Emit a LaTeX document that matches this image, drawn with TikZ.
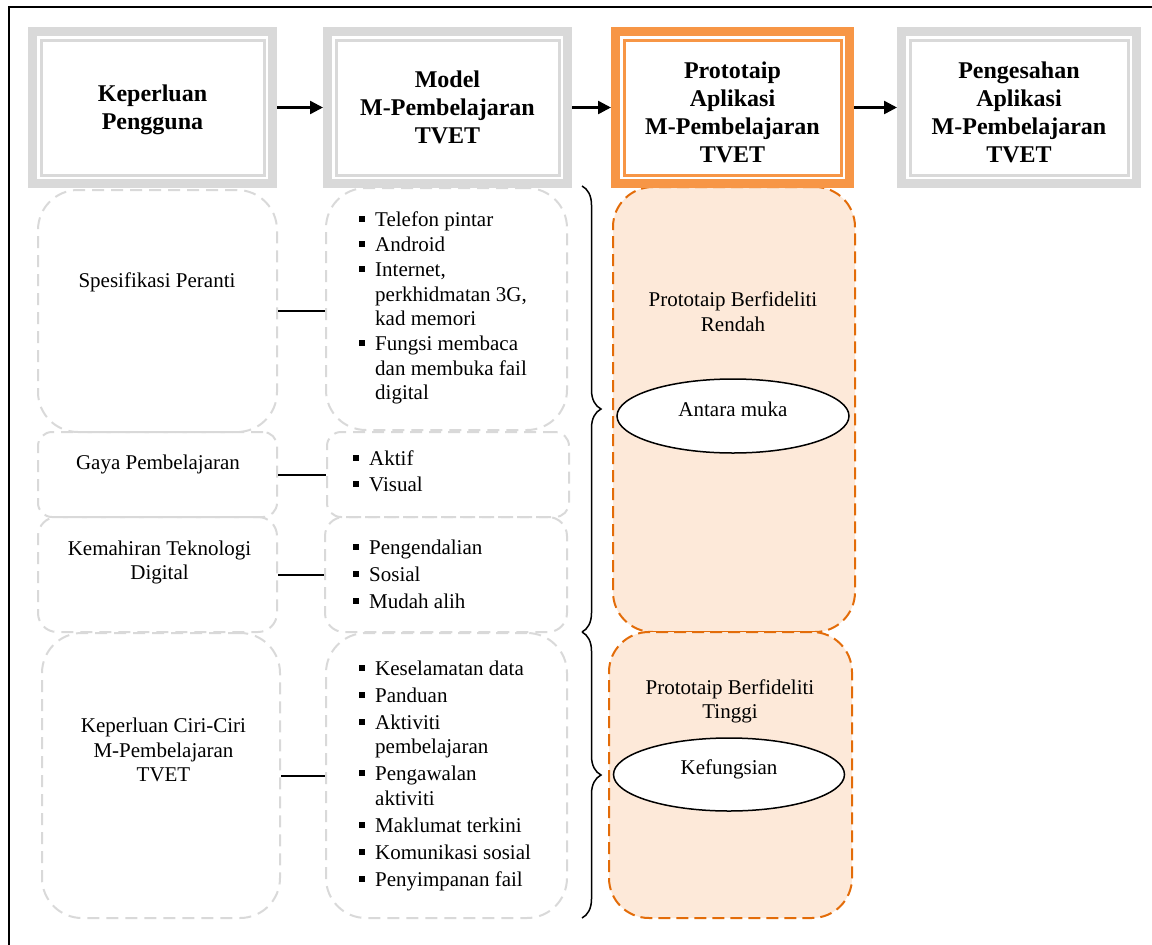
\documentclass[tikz,border=0pt]{standalone}
\usepackage{fontspec}
\setmainfont{Liberation Serif}
\usetikzlibrary{arrows.meta,decorations.pathreplacing,shapes.geometric}

\definecolor{framegray}{HTML}{D9D9D9}
\definecolor{hdrorange}{HTML}{F79646}
\definecolor{dashorange}{HTML}{E36C09}
\definecolor{peach}{HTML}{FDE9D9}

% a centred block of lines whose baseline is the first line's
\newcommand\stacklines[1]{\begin{tabular}[t]{@{}c@{}}#1\end{tabular}}
% square bullet
\newcommand\sqbullet{\raisebox{4.5pt}{\rule{6pt}{6pt}}}
% bulleted list: #1 bullet-to-text distance, #2 extra space between items, #3 items
\newcommand\bulletlist[3]{\parbox[t]{205pt}{\fontsize{21}{24.5}\selectfont
  \setlength\parskip{#2}\setlength\parindent{0pt}%
  \def\itm##1{\par\noindent\hangindent=#1\hangafter=1\makebox[#1][l]{\sqbullet}##1}#3\par}}
% thin inner line of a thick-thin frame
\newcommand\innerframe[2]{\draw[#2, line width=3pt]
  ([shift={(13pt,-13pt)}]#1.north west) rectangle ([shift={(-13pt,13pt)}]#1.south east);}

\begin{document}
\begin{tikzpicture}[x=1pt, y=-1pt,
  hdr/.style={draw=framegray, line width=9pt, minimum height=152pt, inner sep=0pt},
  hdrtext/.style={inner sep=0pt, align=center, font=\fontsize{24}{28}\selectfont\bfseries},
  gbox/.style={draw=framegray, line width=2pt, dash pattern=on 12pt off 7pt,
    rounded corners=#1, inner sep=0pt},
  obox/.style={draw=dashorange, fill=peach, line width=2pt,
    dash pattern=on 12pt off 6pt, rounded corners=40pt, inner sep=0pt},
  oval/.style={ellipse, draw=black, fill=white, line width=1.5pt, inner sep=0pt,
    text height=8pt, text depth=8pt, font=\fontsize{21}{24.5}\selectfont},
  body/.style={inner sep=0pt, font=\fontsize{21}{24.5}\selectfont},
  arr/.style={line width=2.5pt, -{Triangle[length=13pt,width=13pt]}},
  link/.style={line width=2pt},
  curly/.style={decorate, decoration={brace, amplitude=19pt}, line width=1.5pt}]

\useasboundingbox (0,0) rectangle (1152,945);

% outer frame, running off the right and bottom edges
\begin{scope}
  \clip (0,0) rectangle (1152,945);
  \draw[line width=2pt] (9,7) rectangle (1200,1000);
\end{scope}

% prototype stages
\node[obox, minimum width=242pt, minimum height=445pt] (o1) at (734,409.5) {};
\node[obox, minimum width=243pt, minimum height=286pt] (o2) at (730.5,775) {};
\node[body, anchor=base] (o1t) at (733,306.7) {\stacklines{Prototaip Berfideliti\\Rendah}};
\node[body, anchor=base] (o2t) at (730,694) {\stacklines{Prototaip Berfideliti\\Tinggi}};
\node[oval, minimum width=232pt, minimum height=74pt] (e1) at (733,416) {Antara muka};
\node[oval, minimum width=231pt, minimum height=73pt] (e2) at (729,774.5) {Kefungsian};

% user requirement boxes
\node[gbox=40pt, minimum width=239pt, minimum height=242pt] (l1) at (157.5,311) {};
\node[gbox=14pt, minimum width=239pt, minimum height=85pt]  (l2) at (157.5,474.5) {};
\node[gbox=19pt, minimum width=239pt, minimum height=115pt] (l3) at (157.5,574.5) {};
\node[gbox=40pt, minimum width=238pt, minimum height=285pt] (l4) at (161,775.5) {};
\node[body, anchor=base] (l1t) at (157,287.7) {Spesifikasi Peranti};
\node[body, anchor=base] (l2t) at (158,469) {Gaya Pembelajaran};
\node[body, anchor=base] (l3t) at (159.5,555) {\stacklines{Kemahiran Teknologi\\Digital}};
\node[body, anchor=base] (l4t) at (163.5,732.7) {\stacklines{Keperluan Ciri-Ciri\\M-Pembelajaran\\TVET}};

% model content boxes
\node[gbox=40pt, minimum width=241pt, minimum height=242pt] (r1) at (446.5,309) {};
\node[gbox=14pt, minimum width=242pt, minimum height=85pt]  (r2) at (448,474.5) {};
\node[gbox=19pt, minimum width=242pt, minimum height=115pt] (r3) at (446,574.5) {};
\node[gbox=40pt, minimum width=241pt, minimum height=285pt] (r4) at (446.5,775.5) {};

\node[inner sep=0pt, anchor=base west] (r1t) at (359,226.7) {\bulletlist{16pt}{0.5pt}{%
  \itm{Telefon pintar}\itm{Android}\itm{Internet,\\perkhidmatan 3G,\\kad memori}%
  \itm{Fungsi membaca\\dan membuka fail\\digital}}};
\node[inner sep=0pt, anchor=base west] (r2t) at (353,465) {\bulletlist{16pt}{1.5pt}{%
  \itm{Aktif}\itm{Visual}}};
\node[inner sep=0pt, anchor=base west] (r3t) at (353,554) {\bulletlist{16pt}{2.5pt}{%
  \itm{Pengendalian}\itm{Sosial}\itm{Mudah alih}}};
\node[inner sep=0pt, anchor=base west] (r4t) at (359,675) {\bulletlist{16pt}{2.5pt}{%
  \itm{Keselamatan data}\itm{Panduan}\itm{Aktiviti\\pembelajaran}%
  \itm{Pengawalan\\aktiviti}\itm{Maklumat terkini}\itm{Komunikasi sosial}%
  \itm{Penyimpanan fail}}};

% links between requirements and model content
\draw[link] (l1.east) -- (l1.east -| r1.west);
\draw[link] (l2.east) -- (l2.east -| r2.west);
\draw[link] (l3.east) -- (l3.east -| r3.west);
\draw[link] (l4.east) -- (l4.east -| r4.west);

% braces grouping the model content
\coordinate (b1top) at (582,186);
\coordinate (b1bot) at (582,632);
\coordinate (b2bot) at (582,918);
\draw[curly] (b1top) -- (b1bot);
\draw[curly] (b1bot) -- (b2bot);

% stage headers
\node[hdr, minimum width=240pt] (h1) at (152.5,107.5) {};
\node[hdr, minimum width=240pt] (h2) at (447.5,107.5) {};
\node[hdr, draw=hdrorange, minimum width=234pt] (h3) at (732.5,107.5) {};
\node[hdr, minimum width=235pt] (h4) at (1019,107.5) {};
\innerframe{h1}{framegray}
\innerframe{h2}{framegray}
\innerframe{h3}{hdrorange}
\innerframe{h4}{framegray}
\node[hdrtext] (h1t) at (152.5,109.5) {Keperluan\\Pengguna};
\node[hdrtext] (h2t) at (447.5,107.5) {Model\\M-Pembelajaran\\TVET};
\node[hdrtext] (h3t) at (732.5,112.5) {Prototaip\\Aplikasi\\M-Pembelajaran\\TVET};
\node[hdrtext] (h4t) at (1019,112.5) {Pengesahan\\Aplikasi\\M-Pembelajaran\\TVET};

\draw[arr] (h1) -- (h2);
\draw[arr] (h2) -- (h3);
\draw[arr] (h3) -- (h4);
\end{tikzpicture}
\end{document}
